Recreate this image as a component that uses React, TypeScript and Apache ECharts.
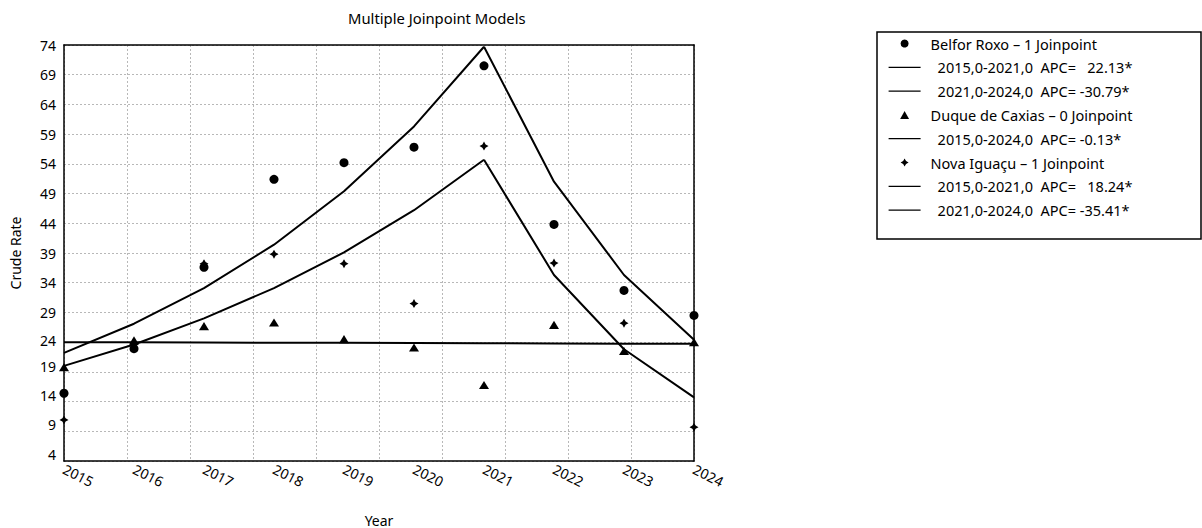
import React, { useEffect, useRef } from 'react';
import * as echarts from 'echarts';

// ---- data ----
const years = [2015, 2016, 2017, 2018, 2019, 2020, 2021, 2022, 2023, 2024];
const yearLabels = ['2015', '2016', '2017', '2018', '2019', '2020', '2021', '2022', '2023', '2024'];
const yTickLabels = ['4', '9', '14', '19', '24', '29', '34', '39', '44', '49', '54', '59', '64', '69', '74'];

// observed crude rates
const belforRoxo = [15.4, 22.9, 36.6, 51.4, 54.2, 56.8, 70.5, 43.8, 32.7, 28.5];
const duqueDeCaxias = [19.8, 24.3, 26.7, 27.3, 24.5, 23.1, 16.8, 26.9, 22.5, 24.0];
const novaIguacu = [10.9, 23.6, 37.2, 38.8, 37.2, 30.5, 57.0, 37.3, 27.2, 9.7];

// joinpoint model fitted values
const belforFit = [22.2, 27.1, 33.1, 40.4, 49.4, 60.3, 73.7, 51.0, 35.3, 24.4];
const duqueFit = [24.0, 23.97, 23.94, 23.91, 23.88, 23.84, 23.81, 23.78, 23.75, 23.72];
const novaFit = [20.0, 23.6, 28.0, 33.1, 39.1, 46.2, 54.7, 35.3, 22.8, 14.7];

const groupNames = ['Belfor Roxo – 1 Joinpoint', 'Duque de Caxias – 0 Joinpoint', 'Nova Iguaçu – 1 Joinpoint'];
const belforSegments = ['2015,0-2021,0  APC=   22.13*', '2021,0-2024,0  APC= -30.79*'];
const duqueSegments = ['2015,0-2024,0  APC= -0.13*'];
const novaSegments = ['2015,0-2021,0  APC=   18.24*', '2021,0-2024,0  APC= -35.41*'];
const belforRanges = [[2015, 2021], [2021, 2024]];
const duqueRanges = [[2015, 2024]];
const novaRanges = [[2015, 2021], [2021, 2024]];

// ---- styles ----
const FONT = '"Noto Sans", "Open Sans", sans-serif';
const STAR = 'path://M0,-10 L3.6,-3.6 L10,0 L3.6,3.6 L0,10 L-3.6,3.6 L-10,0 L-3.6,-3.6 Z';
const TRIANGLE = 'path://M0,0 L5,9 L-5,9 Z';
// the original places its lower y labels a little above their grid lines
const yLabelLift = [7, 6.5, 6, 5, 2, 0, 0, 0, 0, 0, 0, 0, 0, 0, 0];

const points = (vals: number[]) => years.map((y, i) => [y, vals[i]]);
const segment = (vals: number[], from: number, to: number) =>
  years.map((y, i) => [y, vals[i]]).filter((p) => p[0] >= from && p[0] <= to);

export default function App() {
  const ref = useRef<HTMLDivElement>(null);

  useEffect(() => {
    if (!ref.current) return;
    const chart = echarts.init(ref.current, undefined, { renderer: 'svg' });

    const groups = [
      { name: groupNames[0], vals: belforRoxo, fit: belforFit, segs: belforSegments, ranges: belforRanges, symbol: 'circle', size: 9 },
      { name: groupNames[1], vals: duqueDeCaxias, fit: duqueFit, segs: duqueSegments, ranges: duqueRanges, symbol: TRIANGLE, size: [10, 9] },
      { name: groupNames[2], vals: novaIguacu, fit: novaFit, segs: novaSegments, ranges: novaRanges, symbol: STAR, size: 9 },
    ];

    const series: any[] = [];
    const legendData: any[] = [];
    groups.forEach((g) => {
      series.push({
        type: 'scatter', name: g.name, xAxisIndex: 0, yAxisIndex: 0, data: points(g.vals),
        symbol: g.symbol, symbolSize: g.size, symbolKeepAspect: true,
        itemStyle: { color: '#000', opacity: 1 }, z: 4,
      });
      legendData.push({ name: g.name, textStyle: { padding: [0, 0, 0, 5] } });
      g.segs.forEach((s, k) => {
        series.push({
          type: 'line', name: s, xAxisIndex: 0, yAxisIndex: 0,
          data: segment(g.fit, g.ranges[k][0], g.ranges[k][1]),
          symbol: 'none', lineStyle: { color: '#000', width: 2 }, itemStyle: { color: '#000' }, z: 3,
        });
        legendData.push({ name: s, itemStyle: { opacity: 0 }, textStyle: { padding: [0, 0, 0, 12] } });
      });
    });

    const gridLine = { show: true, lineStyle: { color: '#b8b8b8', type: [2, 2], width: 1 } };
    const frame = { show: true, lineStyle: { color: '#000', width: 1.5 } };
    const yRich: Record<string, any> = {};
    yLabelLift.forEach((l, i) => {
      yRich['l' + i] = { fontSize: 14, color: '#000', fontFamily: FONT, padding: [0, 0, l * 2, 0] };
    });

    chart.setOption({
      animation: false,
      backgroundColor: '#fff',
      textStyle: { fontFamily: FONT, color: '#000' },
      title: {
        text: 'Multiple Joinpoint Models', left: 348, top: 10, padding: 0,
        textStyle: { fontFamily: FONT, fontSize: 14.8, fontWeight: 'normal', color: '#000' },
      },
      grid: { left: 64, right: 508, top: 45, bottom: 67, containLabel: false, outerBoundsMode: 'none' },
      xAxis: [
        { type: 'value', min: years[0], max: years[years.length - 1], show: false, position: 'bottom' },
        {
          type: 'category', data: yearLabels, boundaryGap: false, position: 'bottom',
          axisLine: frame, axisTick: { show: false },
          axisLabel: { interval: 0, rotate: -27, margin: 7, fontSize: 14, color: '#000', fontFamily: FONT },
          splitLine: { show: false },
          name: 'Year', nameLocation: 'middle', nameGap: 52,
          nameTextStyle: { fontSize: 14, color: '#000', fontFamily: FONT },
        },
        {
          type: 'value', min: 0, max: 10, interval: 1, position: 'bottom',
          axisLine: { show: false }, axisTick: { show: false }, axisLabel: { show: false }, splitLine: gridLine,
        },
        {
          type: 'value', min: 0, max: 10, position: 'top',
          axisLine: frame, axisTick: { show: false }, axisLabel: { show: false }, splitLine: { show: false },
        },
      ],
      yAxis: [
        { type: 'value', min: 4, max: 74, show: false, position: 'left' },
        {
          type: 'category', data: yTickLabels, boundaryGap: false, position: 'left',
          axisLine: frame, axisTick: { show: false },
          axisLabel: {
            interval: 0, margin: 8, fontSize: 14, color: '#000', fontFamily: FONT,
            formatter: (v: string, i: number) => `{l${i}|${v}}`, rich: yRich,
          },
          splitLine: { ...gridLine, interval: 0 },
          name: 'Crude Rate', nameLocation: 'middle', nameGap: 42, nameRotate: 90,
          nameTextStyle: { fontSize: 14, color: '#000', fontFamily: FONT },
        },
        {
          type: 'value', min: 0, max: 10, position: 'right',
          axisLine: frame, axisTick: { show: false }, axisLabel: { show: false }, splitLine: { show: false },
        },
      ],
      legend: {
        orient: 'vertical', left: 888, top: 36, padding: 0, itemWidth: 32, itemHeight: 8, itemGap: 8.8,
        selectedMode: false, symbolKeepAspect: true, lineStyle: { width: 1.2 },
        textStyle: { fontSize: 14.5, color: '#000', fontFamily: FONT },
        data: legendData,
      },
      graphic: [
        { type: 'rect', shape: { x: 877, y: 32, width: 324, height: 207 }, style: { fill: 'none', stroke: '#000', lineWidth: 1.5 }, silent: true },
      ],
      series,
    });

    return () => chart.dispose();
  }, []);

  return <div ref={ref} style={{ width: 1202, height: 528, position: 'absolute', left: 0, top: 0 }} />;
}
